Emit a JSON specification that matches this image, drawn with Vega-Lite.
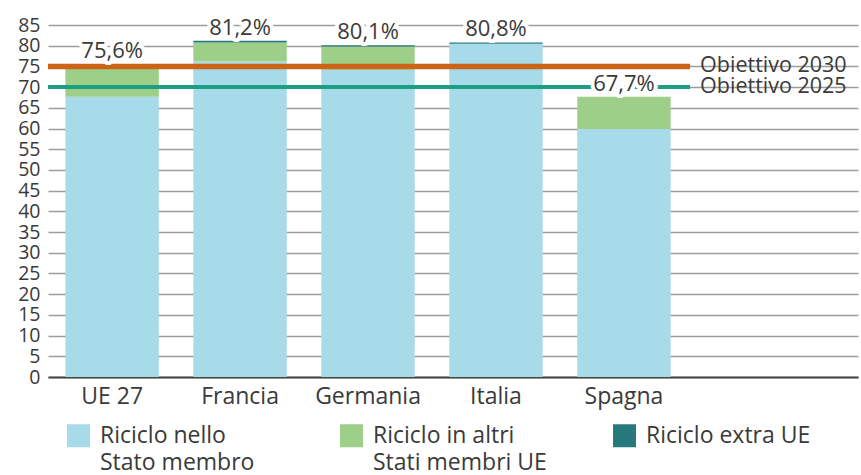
{
  "$schema": "https://vega.github.io/schema/vega-lite/v6.json",
  "width": 810,
  "height": 352,
  "autosize": "none",
  "padding": {"left": 48, "top": 25, "right": 3, "bottom": 98},
  "background": "white",
  "config": {
    "font": "Open Sans",
    "view": {"stroke": null},
    "axis": {"labelColor": "#3a3a3a", "labelFont": "Open Sans", "title": null},
    "axisY": {"labelFontSize": 19.5, "labelPadding": 8, "ticks": false, "domain": false, "grid": true, "gridColor": "#9c9c9c", "gridWidth": 1.5, "labelOverlap": false},
    "axisX": {"labelAngle": 0, "labelFontSize": 23, "labelPadding": 8, "ticks": false, "domain": true, "domainColor": "#444444", "domainWidth": 2, "grid": false}
  },
  "datasets": {
    "riciclo": [
      {"paese": "UE 27", "tipo": "Riciclo nello Stato membro", "valore": 67.7},
      {"paese": "UE 27", "tipo": "Riciclo in altri Stati membri UE", "valore": 7.6},
      {"paese": "UE 27", "tipo": "Riciclo extra UE", "valore": 0.3},
      {"paese": "Francia", "tipo": "Riciclo nello Stato membro", "valore": 76.2},
      {"paese": "Francia", "tipo": "Riciclo in altri Stati membri UE", "valore": 4.6},
      {"paese": "Francia", "tipo": "Riciclo extra UE", "valore": 0.4},
      {"paese": "Germania", "tipo": "Riciclo nello Stato membro", "valore": 74.2},
      {"paese": "Germania", "tipo": "Riciclo in altri Stati membri UE", "valore": 5.6},
      {"paese": "Germania", "tipo": "Riciclo extra UE", "valore": 0.3},
      {"paese": "Italia", "tipo": "Riciclo nello Stato membro", "valore": 80.5},
      {"paese": "Italia", "tipo": "Riciclo in altri Stati membri UE", "valore": 0.0},
      {"paese": "Italia", "tipo": "Riciclo extra UE", "valore": 0.3},
      {"paese": "Spagna", "tipo": "Riciclo nello Stato membro", "valore": 59.9},
      {"paese": "Spagna", "tipo": "Riciclo in altri Stati membri UE", "valore": 7.8},
      {"paese": "Spagna", "tipo": "Riciclo extra UE", "valore": 0.0}
    ],
    "totali": [
      {"paese": "UE 27", "totale": 75.6, "etichetta": "75,6%"},
      {"paese": "Francia", "totale": 81.2, "etichetta": "81,2%"},
      {"paese": "Germania", "totale": 80.1, "etichetta": "80,1%"},
      {"paese": "Italia", "totale": 80.8, "etichetta": "80,8%"},
      {"paese": "Spagna", "totale": 67.7, "etichetta": "67,7%"}
    ],
    "obiettivi": [
      {"obiettivo": "Obiettivo 2030", "valore": 75, "da": "UE 27", "a": "Spagna"},
      {"obiettivo": "Obiettivo 2025", "valore": 70, "da": "UE 27", "a": "Spagna"}
    ]
  },
  "layer": [
    {
      "data": {"name": "riciclo"},
      "mark": {"type": "bar"},
      "encoding": {
        "x": {
          "field": "paese", "type": "nominal",
          "scale": {"domain": ["UE 27", "Francia", "Germania", "Italia", "Spagna"], "paddingInner": 0.27, "paddingOuter": 0.8, "align": 0.085}
        },
        "y": {
          "field": "valore", "type": "quantitative", "stack": "zero",
          "scale": {"domain": [0, 85], "nice": false},
          "axis": {"values": [0,5,10,15,20,25,30,35,40,45,50,55,60,65,70,75,80,85]}
        },
        "color": {
          "field": "tipo", "type": "nominal",
          "scale": {"domain": ["Riciclo nello Stato membro", "Riciclo in altri Stati membri UE", "Riciclo extra UE"], "range": ["#a7dbe9", "#9dcf88", "#27797c"]},
          "legend": {
            "orient": "none", "legendX": 19, "legendY": 399, "direction": "horizontal", "columns": 3,
            "title": null, "symbolType": "square", "symbolSize": 529, "symbolStrokeWidth": 0,
            "labelFontSize": 23, "labelColor": "#3a3a3a", "labelLimit": 300, "labelOffset": 10,
            "columnPadding": 66, "gridAlign": "all", "padding": 0,
            "labelExpr": "datum.label == 'Riciclo nello Stato membro' ? ['Riciclo nello', 'Stato membro'] : datum.label == 'Riciclo in altri Stati membri UE' ? ['Riciclo in altri', 'Stati membri UE'] : [datum.label, ' ']",
            "encode": {"labels": {"update": {"lineHeight": {"value": 27}}}}
          }
        },
        "order": {"field": "tipo", "sort": "descending"}
      }
    },
    {
      "data": {"name": "obiettivi"},
      "transform": [{"filter": "datum.obiettivo == 'Obiettivo 2025'"}],
      "mark": {"type": "rule", "color": "#1c9e80", "strokeWidth": 4},
      "encoding": {
        "x": {"field": "da", "type": "nominal", "bandPosition": -0.186},
        "x2": {"field": "a", "bandPosition": 1.208},
        "y": {"field": "valore", "type": "quantitative", "axis": {"values": [0,5,10,15,20,25,30,35,40,45,50,55,60,65,70,75,80,85]}}
      }
    },
    {
      "data": {"name": "obiettivi"},
      "transform": [{"filter": "datum.obiettivo == 'Obiettivo 2030'"}],
      "mark": {"type": "rule", "color": "#cc6418", "strokeWidth": 5.5},
      "encoding": {
        "x": {"field": "da", "type": "nominal", "bandPosition": -0.186},
        "x2": {"field": "a", "bandPosition": 1.208},
        "y": {"field": "valore", "type": "quantitative", "axis": {"values": [0,5,10,15,20,25,30,35,40,45,50,55,60,65,70,75,80,85]}}
      }
    },
    {
      "data": {"name": "totali"},
      "mark": {"type": "text", "fontSize": 22, "baseline": "alphabetic", "dy": -6, "fill": "white", "stroke": "white", "strokeWidth": 8, "strokeJoin": "round"},
      "encoding": {
        "x": {"field": "paese", "type": "nominal"},
        "y": {"field": "totale", "type": "quantitative", "axis": {"values": [0,5,10,15,20,25,30,35,40,45,50,55,60,65,70,75,80,85]}},
        "text": {"field": "etichetta"}
      }
    },
    {
      "data": {"name": "totali"},
      "mark": {"type": "text", "fontSize": 22, "baseline": "alphabetic", "dy": -6, "fill": "#3a3a3a"},
      "encoding": {
        "x": {"field": "paese", "type": "nominal"},
        "y": {"field": "totale", "type": "quantitative", "axis": {"values": [0,5,10,15,20,25,30,35,40,45,50,55,60,65,70,75,80,85]}},
        "text": {"field": "etichetta"}
      }
    },
    {
      "data": {"name": "obiettivi"},
      "mark": {"type": "text", "fontSize": 21.5, "baseline": "middle", "align": "left", "fill": "#3a3a3a"},
      "encoding": {
        "x": {"field": "a", "type": "nominal", "bandPosition": 1.315},
        "y": {"field": "valore", "type": "quantitative", "axis": {"values": [0,5,10,15,20,25,30,35,40,45,50,55,60,65,70,75,80,85]}},
        "text": {"field": "obiettivo"}
      }
    }
  ]
}
